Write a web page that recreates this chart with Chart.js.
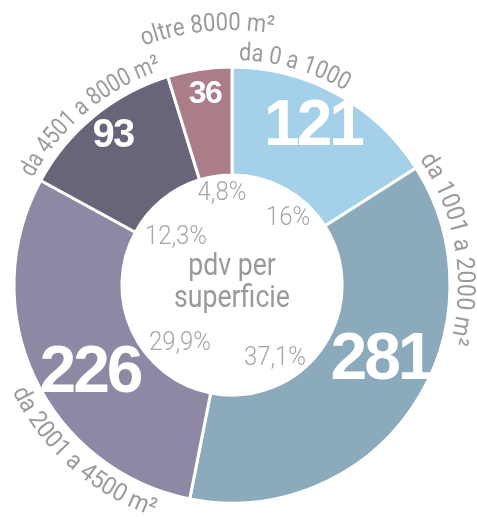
<!DOCTYPE html>
<html><head><meta charset="utf-8">
<script src="https://cdn.jsdelivr.net/npm/chart.js@4"></script>
<style>html,body{margin:0;padding:0;background:#fff}</style>
</head><body>
<canvas id="c" width="477" height="517"></canvas>
<script>
// ---- data ----
const categories = ['da 0 a 1000', 'da 1001 a 2000 m²', 'da 2001 a 4500 m²', 'da 4501 a 8000 m²', 'oltre 8000 m²'];
const values = [121, 281, 226, 93, 36];
const percentLabels = ['16%', '37,1%', '29,9%', '12,3%', '4,8%'];
const centerTitle = ['pdv per', 'superficie'];
const colors = ['#a5d0e9', '#8baabb', '#8d89a4', '#6a6479', '#aa7d89'];

// ---- layout (not data) ----
const valueLabelLayout = [[81, -160, 64], [149, 73, 66], [-142, 86, 66], [-119, -151, 40], [-27, -192, 32]];
const pctLayout = [[56, -67], [43, 73], [-52, 58], [-56, -48], [-10, -92]];
const catLayout = [
  {mid: 16, r: 225, dir: 1, sx: 0.86},
  {mid: 80.5, r: 226, dir: 1, sx: 0.92},
  {mid: 221.5, r: 244, dir: -1, sx: 0.92},
  {mid: 320, r: 226, dir: 1, sx: 0.82},
  {mid: 354.5, r: 255, dir: 1, sx: 0.88}
];

function arcText(ctx, text, cx, cy, r, midDeg, dir, font, sx) {
  ctx.font = font;
  const chars = [...text];
  const widths = chars.map(c => ctx.measureText(c).width * sx);
  const total = widths.reduce((a, b) => a + b, 0);
  let ang = midDeg * Math.PI / 180 - dir * total / 2 / r;
  for (let i = 0; i < chars.length; i++) {
    const w = widths[i];
    const a = ang + dir * w / 2 / r;
    const x = cx + r * Math.sin(a), y = cy - r * Math.cos(a);
    ctx.save();
    ctx.translate(x, y);
    ctx.rotate(dir === 1 ? a : a + Math.PI);
    ctx.scale(sx, 1);
    ctx.textAlign = 'center';
    ctx.textBaseline = 'alphabetic';
    ctx.fillText(chars[i], 0, 0);
    ctx.restore();
    ang += dir * w / r;
  }
}

const labelsPlugin = {
  id: 'labels',
  afterDraw(chart) {
    const ctx = chart.ctx;
    const arc = chart.getDatasetMeta(0).data[0];
    const cx = arc.x, cy = arc.y;
    // category labels along arc
    ctx.fillStyle = '#9b9b9b';
    categories.forEach((t, i) => {
      const L = catLayout[i];
      arcText(ctx, t, cx, cy, L.r, L.mid, L.dir, '25px Roboto, "Liberation Sans", sans-serif', L.sx);
    });
    // value labels
    ctx.fillStyle = '#ffffff';
    ctx.textAlign = 'center';
    ctx.textBaseline = 'middle';
    values.forEach((v, i) => {
      const [dx, dy, fs] = valueLabelLayout[i];
      ctx.save();
      ctx.font = 'bold ' + fs + 'px "Liberation Sans", Arial, sans-serif';
      ctx.letterSpacing = (-fs / 22).toFixed(1) + 'px';
      ctx.translate(cx + dx, cy + dy);
      ctx.fillText(String(v), 0, fs * 0.04);
      ctx.restore();
    });
    // percent labels
    ctx.fillStyle = '#a6a6a6';
    percentLabels.forEach((t, i) => {
      const [dx, dy] = pctLayout[i];
      ctx.save();
      ctx.font = '300 26px Roboto, "Liberation Sans", sans-serif';
      ctx.translate(cx + dx, cy + dy);
      ctx.scale(0.92, 1);
      ctx.fillText(t, 0, 0);
      ctx.restore();
    });
    // center title
    ctx.fillStyle = '#9a9a9a';
    ctx.textBaseline = 'alphabetic';
    [[centerTitle[0], -10], [centerTitle[1], 22]].forEach(([t, dy]) => {
      ctx.save();
      ctx.font = '31px Roboto, "Liberation Sans", sans-serif';
      ctx.translate(cx, cy + dy);
      ctx.scale(0.86, 1);
      ctx.fillText(t, 0, 0);
      ctx.restore();
    });
  }
};

new Chart(document.getElementById('c'), {
  type: 'doughnut',
  data: {
    labels: categories,
    datasets: [{
      data: values,
      backgroundColor: colors,
      borderColor: '#ffffff',
      borderWidth: 3,
      hoverOffset: 0,
      radius: 218
    }]
  },
  options: {
    responsive: false,
    devicePixelRatio: 1,
    animation: false,
    cutout: '50.5%',
    layout: {padding: {left: 0, right: 13, top: 53, bottom: 0}},
    plugins: {legend: {display: false}, tooltip: {enabled: false}}
  },
  plugins: [labelsPlugin]
});
</script>
</body></html>
